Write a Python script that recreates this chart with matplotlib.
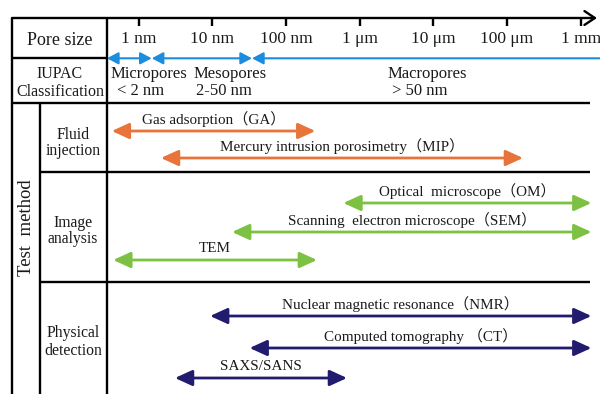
import matplotlib.pyplot as plt
from matplotlib.ticker import NullLocator

plt.rcParams['font.family'] = ['Liberation Serif', 'Noto Sans CJK SC']

# pore size scale (nm)
tick_values = [1, 10, 100, 1e3, 1e4, 1e5, 1e6]
tick_labels = ['1 nm', '10 nm', '100 nm', '1 μm', '10 μm', '100 μm', '1 mm']

# IUPAC class limits (nm): micro | meso | macro
iupac_limits = [0.37, 1.5, 34.5, 1.83e6]

# test methods and measurable pore size range (nm)
method_names = ['Gas adsorption（GA）', 'Mercury intrusion porosimetry（MIP）',
                'Optical  microscope（OM）', 'Scanning  electron microscope（SEM）', 'TEM',
                'Nuclear magnetic resonance（NMR）', 'Computed tomography （CT）', 'SAXS/SANS']
method_min = [0.43, 2.0, 600, 18.5, 0.45, 9.3, 32, 3.1]
method_max = [250, 1.65e5, 1.4e6, 1.4e6, 263, 1.4e6, 1.4e6, 673]
method_group = ['fluid', 'fluid', 'image', 'image', 'image', 'phys', 'phys', 'phys']

group_colors = {'fluid': '#E8743B', 'image': '#7DC142', 'phys': '#221C6E'}
row_y = [131, 158, 203, 232, 260, 316, 348, 378]

W, H = 600, 394
fig = plt.figure(figsize=(6, 3.94), dpi=100)

# table frame, drawn in pixel units
fr = fig.add_axes([0, 0, 1, 1])
fr.set_xlim(0, W)
fr.set_ylim(H, 0)
fr.axis('off')

lw = 1.7
fr.annotate('', xy=(597, 18), xytext=(12, 18),
            arrowprops=dict(arrowstyle='->,head_length=0.75,head_width=0.5', lw=lw,
                            color='black', shrinkA=0, shrinkB=0, mutation_scale=10))
fr.hlines(57.5, 12, 107, color='black', lw=lw)
fr.hlines(103, 12, 590, color='black', lw=lw)
fr.hlines([171.5, 282], 40, 590, color='black', lw=lw)
fr.vlines([12, 107], 18, H, color='black', lw=lw)
fr.vlines(40, 103, H, color='black', lw=lw)

txt = '#1a1a1a'
fr.text(60, 40, 'Pore size', ha='center', va='center', fontsize=13, color=txt)
fr.text(60, 83, 'IUPAC\nClassification', ha='center', va='center', fontsize=11.5,
        linespacing=1.1, color=txt)
fr.text(27, 228, 'Test  method', ha='center', va='center', fontsize=13.5,
        rotation=90, color=txt)
fr.text(73, 143, 'Fluid\ninjection', ha='center', va='center', fontsize=11.3,
        linespacing=1.05, color=txt)
fr.text(73, 231, 'Image\nanalysis', ha='center', va='center', fontsize=11.3,
        linespacing=1.0, color=txt)
fr.text(73, 342, 'Physical\ndetection', ha='center', va='center', fontsize=11.3,
        linespacing=1.1, color=txt)

fr.text(149, 74, 'Micropores', ha='center', va='center', fontsize=12, color=txt)
fr.text(141, 91, '< 2 nm', ha='center', va='center', fontsize=12, color=txt)
fr.text(230, 74, 'Mesopores', ha='center', va='center', fontsize=12, color=txt)
fr.text(224, 91, '2-50 nm', ha='center', va='center', fontsize=12, color=txt)
fr.text(427, 74, 'Macropores', ha='center', va='center', fontsize=12, color=txt)
fr.text(420, 91, '> 50 nm', ha='center', va='center', fontsize=12, color=txt)

# log pore size axis on top of the frame
ax = fig.add_axes([0, 0, 1, (H - 18) / H])
ax.set_xscale('log')
ax.set_xlim(10 ** (-138.75 / 73.65), 10 ** ((W - 138.75) / 73.65))
ax.set_ylim(H, 18)
ax.patch.set_alpha(0)
for s in ax.spines.values():
    s.set_visible(False)
ax.set_yticks([])
ax.set_xticks(tick_values, tick_labels)
ax.xaxis.set_minor_locator(NullLocator())
ax.tick_params(axis='x', top=True, bottom=False, labeltop=True, labelbottom=False,
               direction='in', length=6, width=1.7, pad=-21, labelsize=12.5,
               labelcolor=txt)

# IUPAC classes
blue = '#1C8CDF'
n = len(iupac_limits) - 1
for i in range(n):
    style = '<|-|>' if i < n - 1 else '<|-'
    ax.annotate('', xy=(iupac_limits[i + 1], 58.3), xytext=(iupac_limits[i], 58.3),
                arrowprops=dict(arrowstyle=style + ',head_length=0.85,head_width=0.45',
                                color=blue, lw=1.5, shrinkA=0, shrinkB=0,
                                mutation_scale=8), annotation_clip=False)

# method ranges
for name, lo, hi, g, y in zip(method_names, method_min, method_max, method_group, row_y):
    c = group_colors[g]
    ax.annotate('', xy=(hi, y), xytext=(lo, y),
                arrowprops=dict(arrowstyle='<|-|>,head_length=1.05,head_width=0.48',
                                color=c, lw=2.0, shrinkA=0, shrinkB=0,
                                mutation_scale=10), annotation_clip=False)
    ax.text((lo * hi) ** 0.5, y - 12, name, ha='center', va='center',
            fontsize=10.9, color=txt)

fig.savefig('out.png', dpi=100)
